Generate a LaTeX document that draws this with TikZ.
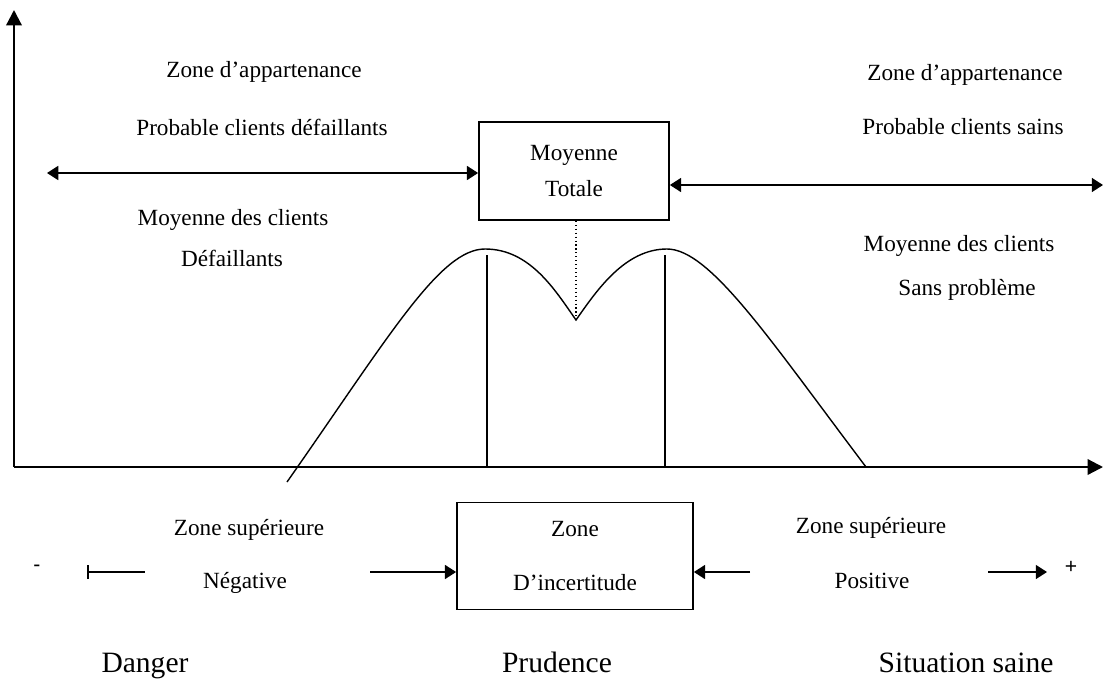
\documentclass[tikz,border=0pt]{standalone}
\usepackage{fontspec}
\setmainfont{Liberation Serif}
\setsansfont{Liberation Sans}
\usetikzlibrary{arrows.meta,positioning}

\tikzset{
  zonetext/.style={font=\fontsize{16.5}{20}\selectfont, anchor=base, inner sep=0pt},
  bigtext/.style={font=\fontsize{21}{25}\selectfont, anchor=base, inner sep=0pt},
  signtext/.style={font=\sffamily\fontsize{15}{18}\selectfont, inner sep=0pt},
  framebox/.style={draw, line width=1.2pt, align=center},
  axis/.style={line width=1.6pt, -{Triangle[length=11pt,width=11pt]}},
  twoway/.style={line width=1.1pt, {Triangle[length=8pt,width=10pt]}-{Triangle[length=8pt,width=10pt]}},
  onearrow/.style={line width=1.1pt, -{Triangle[length=8pt,width=10pt]}},
  bararrow/.style={line width=1.1pt, {Bar[width=10pt]}-}
}

\begin{document}
\begin{tikzpicture}[x=0.025cm, y=-0.025cm]
    \useasboundingbox (0,0) rectangle (1103,684);

    % axes
    \coordinate (o) at (14,467);
    \coordinate (ytop) at (14,10);
    \coordinate (xend) at (1103,467);
    \draw [axis] (o) -- (ytop);
    \draw [axis] (o) -- (xend);

    % boxes
    \node (mt) [framebox, font=\fontsize{16.5}{25}\selectfont, minimum width=4.75cm, minimum height=2.45cm] at (574,171) {Moyenne\\Totale};
    \node (zi) [framebox, font=\fontsize{16.5}{38}\selectfont, minimum width=5.9cm, minimum height=2.675cm] at (575,556) {Zone\\D’incertitude};

    % upper ranges
    \coordinate (lr) at (47,173);
    \coordinate (rr) at (1103,185);
    \draw [twoway] (lr) -- (lr -| mt.west);
    \draw [twoway] (rr -| mt.east) -- (rr);

    % curve
    \coordinate (cstart) at (287,482);
    \coordinate (pk1) at (485,249);
    \coordinate (vmin) at (576,320);
    \coordinate (pk2) at (667,249);
    \coordinate (cend) at (866,467);
    \draw [line width=1pt] (cstart) .. controls (390,335) and (440,249) .. (pk1)
        .. controls (530,249) and (555,290) .. (vmin)
        .. controls (597,290) and (625,249) .. (pk2)
        .. controls (710,249) and (770,340) .. (cend);
    \draw [dotted, line width=0.8pt] (mt.south -| vmin) -- (vmin);

    % means
    \coordinate (m1) at (487,255);
    \coordinate (m2) at (665,255);
    \draw [line width=1.1pt] (m1) -- (m1 |- o);
    \draw [line width=1.1pt] (m2) -- (m2 |- o);

    % lower ranges
    \coordinate (nb) at (87,572);
    \coordinate (ne) at (145,572);
    \coordinate (na) at (370,572);
    \coordinate (pa) at (750,572);
    \coordinate (pb) at (988,572);
    \coordinate (pe) at (1047,572);
    \draw [bararrow] (nb) -- (ne);
    \draw [onearrow] (na) -- (na -| zi.west);
    \draw [onearrow] (pa) -- (pa -| zi.east);
    \draw [onearrow] (pb) -- (pe);

    % texts
    \node (zal) [zonetext] at (264,77) {Zone d’appartenance};
    \node (pcd) [zonetext] at (262,135) {Probable clients défaillants};
    \node (mcd) [zonetext] at (233,225) {Moyenne des clients};
    \node (dfl) [zonetext] at (232,266) {Défaillants};
    \node (zar) [zonetext] at (965,80) {Zone d’appartenance};
    \node (pcs) [zonetext] at (963,134) {Probable clients sains};
    \node (mcs) [zonetext] at (959,251) {Moyenne des clients};
    \node (spb) [zonetext] at (967,295) {Sans problème};
    \node (zsn) [zonetext] at (249,535) {Zone supérieure};
    \node (neg) [zonetext] at (245,588) {Négative};
    \node (zsp) [zonetext] at (871,533) {Zone supérieure};
    \node (pos) [zonetext] at (872,588) {Positive};
    \node (mns) [signtext] at (37,568) {-};
    \node (pls) [signtext] at (1071,567) {+};
    \node (dgr) [bigtext] at (145,672) {Danger};
    \node (prd) [bigtext] at (557,672) {Prudence};
    \node (sts) [bigtext] at (966,672) {Situation saine};
\end{tikzpicture}
\end{document}
